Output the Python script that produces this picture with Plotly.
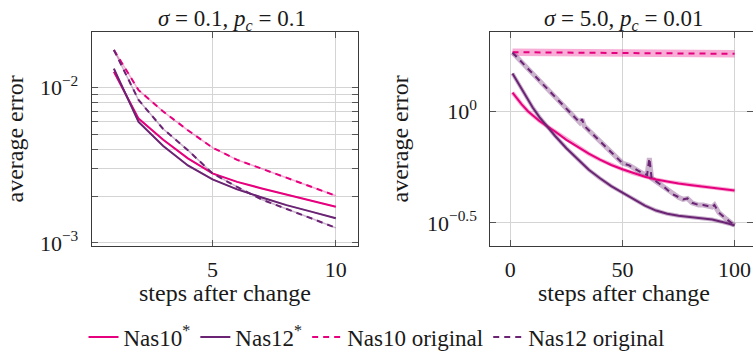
import plotly.graph_objects as go

PINK = "#e6007e"
PURPLE = "#6b2474"
PINK_BAND = "rgba(230,0,126,0.32)"
PURPLE_BAND = "rgba(107,36,116,0.35)"

# ---------------- left panel: sigma = 0.1, p_c = 0.1 ----------------
steps_a = [1, 2, 3, 4, 5, 6, 7, 8, 9, 10]
nas10_star_a = [0.0126, 0.0063, 0.0046, 0.0035, 0.0028, 0.00247, 0.00224, 0.00205, 0.00188, 0.00171]
nas12_star_a = [0.0132, 0.0060, 0.0042, 0.00315, 0.00256, 0.00221, 0.00196, 0.00175, 0.00159, 0.00144]
nas10_orig_a = [0.0174, 0.0096, 0.0070, 0.0053, 0.0041, 0.00342, 0.0030, 0.00262, 0.00229, 0.00201]
nas12_orig_a = [0.0174, 0.0083, 0.0054, 0.00395, 0.0028, 0.00229, 0.0019, 0.00166, 0.00144, 0.00125]

# ---------------- right panel: sigma = 5.0, p_c = 0.01 ----------------
steps_b = [1, 3, 5, 8, 10, 13, 17, 20, 25, 30, 35, 40, 45, 50, 55, 60, 65, 70, 75, 80, 85, 90, 95, 100]
nas10_star_b = [1.216, 1.143, 1.079, 1.0, 0.959, 0.906, 0.851, 0.813, 0.745, 0.692, 0.646, 0.607,
                0.575, 0.550, 0.527, 0.509, 0.495, 0.484, 0.475, 0.468, 0.461, 0.455, 0.449, 0.442]
nas12_star_b = [1.479, 1.365, 1.259, 1.122, 1.042, 0.944, 0.841, 0.776, 0.684, 0.610, 0.547, 0.501,
                0.462, 0.432, 0.405, 0.378, 0.359, 0.347, 0.340, 0.336, 0.331, 0.327, 0.318, 0.308]

steps_c = [1, 25, 50, 75, 100]
nas10_orig_b = [1.845, 1.838, 1.830, 1.822, 1.814]

steps_d = [1, 5, 10, 15, 20, 25, 30, 31, 32, 33, 36, 40, 44, 47, 50, 53, 56, 59, 61, 62, 63,
           66, 69, 72, 75, 77, 79, 81, 84, 86, 88, 90, 91, 93, 96, 98, 100]
nas12_orig_b = [1.837, 1.667, 1.479, 1.309, 1.161, 1.028, 0.912, 0.891, 0.923, 0.861, 0.804, 0.733,
                0.673, 0.624, 0.586, 0.573, 0.547, 0.527, 0.519, 0.617, 0.501, 0.476, 0.454, 0.427,
                0.412, 0.403, 0.407, 0.389, 0.380, 0.380, 0.376, 0.372, 0.380, 0.351, 0.331, 0.320, 0.308]

FONT = "Liberation Serif, Times New Roman, DejaVu Serif, serif"
TXT = "#1a1a1a"
GRID = "#d4d4d4"
FRAME = "#3a3a3a"
FS = 23
AFS = 24
TFS = 22

fig = go.Figure()

def band(x, y, color, width, xa, ya):
    fig.add_trace(go.Scatter(x=x, y=y, mode="lines", xaxis=xa, yaxis=ya, showlegend=False,
                             hoverinfo="skip", line=dict(color=color, width=width)))

# bands
band(steps_a, nas10_star_a, PINK_BAND, 1.5, "x", "y")
band(steps_a, nas12_star_a, PURPLE_BAND, 1.5, "x", "y")
band(steps_a, nas10_orig_a, PINK_BAND, 1.5, "x", "y")
band(steps_a, nas12_orig_a, PURPLE_BAND, 1.5, "x", "y")
band(steps_b, nas10_star_b, PINK_BAND, 4, "x2", "y2")
band(steps_b, nas12_star_b, PURPLE_BAND, 4, "x2", "y2")
band(steps_c, nas10_orig_b, PINK_BAND, 7.5, "x2", "y2")
band(steps_d, nas12_orig_b, PURPLE_BAND, 5, "x2", "y2")

DASH = "6px,5px"
series = [
    ("Nas10<sup>*</sup>", PINK, "solid", steps_a, nas10_star_a, steps_b, nas10_star_b),
    ("Nas12<sup>*</sup>", PURPLE, "solid", steps_a, nas12_star_a, steps_b, nas12_star_b),
    ("Nas10 original", PINK, DASH, steps_a, nas10_orig_a, steps_c, nas10_orig_b),
    ("Nas12 original", PURPLE, DASH, steps_a, nas12_orig_a, steps_d, nas12_orig_b),
]
for name, col, dash, xa_, ya_, xb_, yb_ in series:
    fig.add_trace(go.Scatter(x=xa_, y=ya_, mode="lines", name=name, legendgroup=name,
                             xaxis="x", yaxis="y", line=dict(color=col, width=2, dash=dash)))
    fig.add_trace(go.Scatter(x=xb_, y=yb_, mode="lines", name=name, legendgroup=name, showlegend=False,
                             xaxis="x2", yaxis="y2", line=dict(color=col, width=2, dash=dash)))

W, H = 753, 352
def px_x(p): return p / W
def px_y(p): return 1 - p / H

ydom = [px_y(246.2), px_y(31.7)]
common_axis = dict(showline=True, linecolor=FRAME, linewidth=1, mirror="allticks",
                   ticks="inside", ticklen=6, tickcolor="#555555", tickwidth=1,
                   showgrid=True, gridcolor=GRID, gridwidth=1, zeroline=False,
                   tickfont=dict(family=FONT, size=TFS, color=TXT))

left_yvals = [1e-3, 2e-3, 3e-3, 4e-3, 5e-3, 6e-3, 7e-3, 8e-3, 9e-3, 1e-2]
left_ytext = ["10<sup>−3</sup>", "", "", "", "", "", "", "", "", "10<sup>−2</sup>"]

fig.update_layout(
    width=W, height=H, margin=dict(l=0, r=0, t=0, b=0, autoexpand=False),
    paper_bgcolor="white", plot_bgcolor="white",
    font=dict(family=FONT, size=FS, color=TXT),
    xaxis=dict(domain=[px_x(91.7), px_x(358)], range=[0.1, 10.9], tickvals=[5, 10],
               ticklabelstandoff=3, **common_axis),
    yaxis=dict(domain=ydom, type="log", range=[-3.021, -1.642], tickvals=left_yvals,
               ticktext=left_ytext, ticklabelstandoff=8, **common_axis),
    xaxis2=dict(domain=[px_x(490.3), 1.0], range=[-8.9, 108.2], tickvals=[0, 50, 100],
                anchor="y2", ticklabelstandoff=3, **common_axis),
    yaxis2=dict(domain=ydom, type="log", range=[-0.605, 0.358], tickvals=[10 ** -0.5, 1.0],
                ticktext=["10<sup>−0.5</sup>", "10<sup>0</sup>"], anchor="x2",
                ticklabelstandoff=8, **common_axis),
    legend=dict(orientation="h", x=0.5, xanchor="center", y=px_y(337), yanchor="middle",
                font=dict(family=FONT, size=FS, color=TXT), bgcolor="rgba(0,0,0,0)"),
    showlegend=True,
)

annots = [
    dict(text="<i>σ</i> = 0.1, <i>p</i><sub><i>c</i></sub> = 0.1", x=px_x(231.5), y=px_y(20), size=FS),
    dict(text="<i>σ</i> = 5.0, <i>p</i><sub><i>c</i></sub> = 0.01", x=px_x(623.3), y=px_y(20), size=FS),
    dict(text="steps after change", x=px_x(224.9), y=px_y(293), size=AFS),
    dict(text="steps after change", x=px_x(623.8), y=px_y(293), size=AFS),
    dict(text="average error", x=px_x(14.5), y=px_y(139), textangle=-90, size=AFS),
    dict(text="average error", x=px_x(399.5), y=px_y(139), textangle=-90, size=AFS),
]
for a in annots:
    sz = a.pop("size")
    fig.add_annotation(xref="paper", yref="paper", xanchor="center", yanchor="middle",
                       showarrow=False, font=dict(family=FONT, size=sz, color=TXT), **a)

fig.write_html("out.html")
